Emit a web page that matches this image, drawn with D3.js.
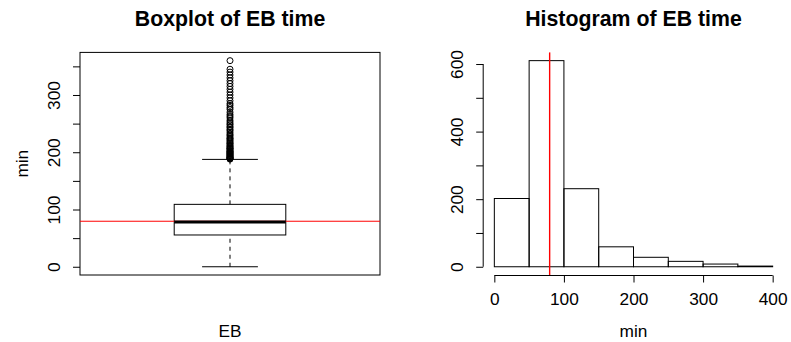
<!DOCTYPE html>
<html>
<head>
<meta charset="utf-8">
<script src="https://cdn.jsdelivr.net/npm/d3@7"></script>
<style>
  body { margin: 0; background: #fff; }
  svg { font-family: "Liberation Sans", Arial, sans-serif; }
  .tick line, .axisline { stroke: #000; }
</style>
</head>
<body>
<div id="chart"></div>
<script>
// EB time, minutes
var boxStats = [0, 55.5, 78, 109, 187.5];   // lower whisker, Q1, median, Q3, upper whisker
var meanTime = 79.5;
var outliers = [188, 188.5, 189, 190, 190.5, 191, 192, 193, 194, 195, 196, 197, 198, 199, 200,
  201, 202, 203, 205, 206, 207, 208, 210, 211, 213, 215, 216, 218, 220, 222, 224, 225, 228,
  230, 232, 235, 238, 240, 243, 245, 248, 250, 253, 256, 260, 263, 266, 270, 275, 278, 282,
  285, 290, 295, 300, 305, 310, 315, 320, 325, 330, 335, 340, 345, 360];
var histBreaks = [0, 50, 100, 150, 200, 250, 300, 350, 400];
var histCounts = [202, 610, 231, 59, 28, 16, 8, 2];
var boxTicks = [0, 50, 100, 150, 200, 250, 300, 350];
var histYTicks = [0, 100, 200, 300, 400, 500, 600];
var histXTicks = [0, 100, 200, 300, 400];

var width = 791, height = 342,
    fs = 17.3, titleFs = 21.3;

var svg = d3.select("#chart").append("svg")
  .attr("width", width)
  .attr("height", height);

// ---- left panel: boxplot ----
var box = {left: 80, right: 380, top: 52.4, bottom: 275};

var yBox = d3.scaleLinear().domain([-14.4, 374.4]).range([box.bottom, box.top]);
var xBox = d3.scaleLinear().domain([0.5, 1.5]).range([box.left, box.right]);

var gb = svg.append("g");

gb.append("rect")
  .attr("x", box.left).attr("y", box.top)
  .attr("width", box.right - box.left).attr("height", box.bottom - box.top)
  .attr("fill", "none").attr("stroke", "#000");

var yAxisB = gb.append("g")
  .attr("transform", "translate(" + box.left + ",0)")
  .call(d3.axisLeft(yBox).tickValues(boxTicks).tickSize(7)
    .tickFormat(function (d) { return d % 100 === 0 ? d : ""; }));
yAxisB.select(".domain").remove();
yAxisB.selectAll("text")
  .attr("transform", "rotate(-90)")
  .attr("x", 0).attr("y", -20).attr("dy", 0)
  .attr("text-anchor", "middle")
  .style("font-size", fs + "px")
  .attr("font-family", null);

var cx = xBox(1), bw = 0.186, cw = 0.093;

// whiskers
gb.selectAll(".whisker")
  .data([[boxStats[0], boxStats[1]], [boxStats[3], boxStats[4]]])
  .enter().append("line")
  .attr("x1", cx).attr("x2", cx)
  .attr("y1", function (d) { return yBox(d[0]); })
  .attr("y2", function (d) { return yBox(d[1]); })
  .attr("stroke", "#000")
  .attr("stroke-dasharray", "4,4");

gb.selectAll(".cap")
  .data([boxStats[0], boxStats[4]])
  .enter().append("line")
  .attr("x1", xBox(1 - cw)).attr("x2", xBox(1 + cw))
  .attr("y1", function (d) { return yBox(d); })
  .attr("y2", function (d) { return yBox(d); })
  .attr("stroke", "#000");

gb.append("rect")
  .attr("x", xBox(1 - bw)).attr("y", yBox(boxStats[3]))
  .attr("width", xBox(1 + bw) - xBox(1 - bw))
  .attr("height", yBox(boxStats[1]) - yBox(boxStats[3]))
  .attr("fill", "#fff").attr("stroke", "#000");

gb.selectAll(".outlier")
  .data(outliers)
  .enter().append("circle")
  .attr("cx", cx)
  .attr("cy", function (d) { return yBox(d); })
  .attr("r", 3)
  .attr("fill", "none").attr("stroke", "#000");

// mean line
gb.append("line")
  .attr("x1", box.left).attr("x2", box.right)
  .attr("y1", yBox(meanTime)).attr("y2", yBox(meanTime))
  .attr("stroke", "#ff0000");

gb.append("line")
  .attr("x1", xBox(1 - bw)).attr("x2", xBox(1 + bw))
  .attr("y1", yBox(boxStats[2])).attr("y2", yBox(boxStats[2]))
  .attr("stroke", "#000").attr("stroke-width", 3);

gb.append("text")
  .attr("x", cx).attr("y", 26)
  .attr("text-anchor", "middle")
  .style("font-size", titleFs + "px").style("font-weight", "bold")
  .text("Boxplot of EB time");

gb.append("text")
  .attr("transform", "translate(28," + ((box.top + box.bottom) / 2) + ") rotate(-90)")
  .attr("text-anchor", "middle")
  .style("font-size", fs + "px")
  .text("min");

gb.append("text")
  .attr("x", cx).attr("y", 337)
  .attr("text-anchor", "middle")
  .style("font-size", fs + "px")
  .text("EB");

// ---- right panel: histogram ----
var hp = {left: 483.2, right: 783.8, top: 52.4, bottom: 275};

var xHist = d3.scaleLinear().domain([-16, 416]).range([hp.left, hp.right]);
var yHist = d3.scaleLinear().domain([-24.4, 634.4]).range([hp.bottom, hp.top]);

var gh = svg.append("g");

gh.selectAll(".bar")
  .data(histCounts)
  .enter().append("rect")
  .attr("class", "bar")
  .attr("x", function (d, i) { return xHist(histBreaks[i]); })
  .attr("width", function (d, i) { return xHist(histBreaks[i + 1]) - xHist(histBreaks[i]); })
  .attr("y", function (d) { return yHist(d); })
  .attr("height", function (d) { return yHist(0) - yHist(d); })
  .attr("fill", "none").attr("stroke", "#000");

var yAxisH = gh.append("g")
  .attr("transform", "translate(" + hp.left + ",0)")
  .call(d3.axisLeft(yHist).tickValues(histYTicks).tickSize(7)
    .tickFormat(function (d) { return d % 200 === 0 ? d : ""; }));
yAxisH.select(".domain").remove();
yAxisH.append("line").attr("class", "axisline")
  .attr("x1", 0).attr("x2", 0)
  .attr("y1", yHist(0)).attr("y2", yHist(600));
yAxisH.selectAll("text")
  .attr("transform", "rotate(-90)")
  .attr("x", 0).attr("y", -20).attr("dy", 0)
  .attr("text-anchor", "middle")
  .style("font-size", fs + "px")
  .attr("font-family", null);

var xAxisH = gh.append("g")
  .attr("transform", "translate(0," + (hp.bottom + 0.5) + ")")
  .call(d3.axisBottom(xHist).tickValues(histXTicks).tickSize(7));
xAxisH.select(".domain").remove();
xAxisH.append("line").attr("class", "axisline")
  .attr("x1", xHist(0)).attr("x2", xHist(400))
  .attr("y1", 0).attr("y2", 0);
xAxisH.selectAll("text")
  .attr("y", 29.5).attr("dy", 0)
  .style("font-size", fs + "px")
  .attr("font-family", null);

gh.append("line")
  .attr("x1", xHist(meanTime)).attr("x2", xHist(meanTime))
  .attr("y1", hp.top).attr("y2", hp.bottom)
  .attr("stroke", "#ff0000").attr("stroke-width", 1.4);

gh.append("text")
  .attr("x", (hp.left + hp.right) / 2).attr("y", 26)
  .attr("text-anchor", "middle")
  .style("font-size", titleFs + "px").style("font-weight", "bold")
  .text("Histogram of EB time");

gh.append("text")
  .attr("x", (hp.left + hp.right) / 2).attr("y", 337)
  .attr("text-anchor", "middle")
  .style("font-size", fs + "px")
  .text("min");
</script>
</body>
</html>
